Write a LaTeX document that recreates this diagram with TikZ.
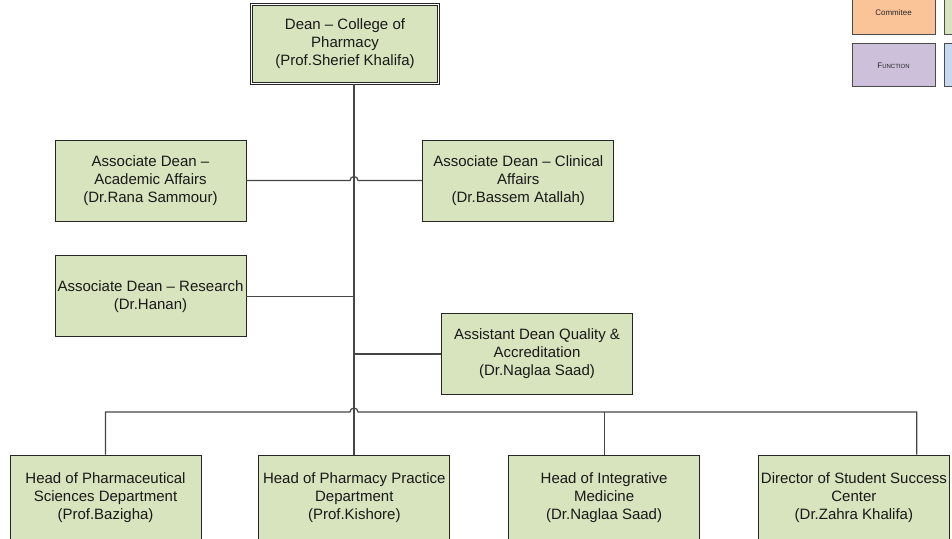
\documentclass[tikz,border=0pt]{standalone}
\usepackage{fontspec}
\setmainfont{Liberation Sans}
\usepackage{tikz}
\usetikzlibrary{positioning}
\definecolor{boxgreen}{RGB}{215,228,189}
\definecolor{legorange}{RGB}{250,196,152}
\definecolor{legpurple}{RGB}{204,192,218}
\definecolor{legblue}{RGB}{198,217,241}
\definecolor{linegray}{RGB}{70,70,70}

\begin{document}
\begin{tikzpicture}
    [x=1pt, y=-1pt,
     orgbox/.style={rectangle, draw=black!85, fill=boxgreen, line width=0.8pt, minimum height=81pt, minimum width=191pt, align=center, inner sep=1pt, text=black!90, font=\fontsize{15}{18}\selectfont},
     deanbox/.style={orgbox, minimum width=187pt, minimum height=79pt, double, double distance=1.6pt},
     headbox/.style={orgbox, minimum height=85pt},
     legbox/.style={rectangle, draw=black!70, line width=0.8pt, minimum height=43pt, minimum width=83pt, text=black!85},
     link/.style={draw=linegray, line width=1.2pt}]

    \path [use as bounding box, clip] (0,0) rectangle (952,538);

    \node [deanbox] (dean) at (345,44) {Dean – College of\\Pharmacy\\(Prof.Sherief Khalifa)};
    \node [orgbox] (acad) at (150.5,180.5) {Associate Dean –\\Academic Affairs\\(Dr.Rana Sammour)};
    \node [orgbox, right=176pt of acad] (clin) {Associate Dean – Clinical\\Affairs\\(Dr.Bassem Atallah)};
    \node [orgbox, below=34pt of acad] (res) {Associate Dean – Research\\(Dr.Hanan)};
    \node [orgbox] (qual) at (537,354) {Assistant Dean Quality \&\\Accreditation\\(Dr.Naglaa Saad)};

    \node [headbox] (pharmsci) at (105.5,497.5) {Head of Pharmaceutical\\Sciences Department\\(Prof.Bazigha)};
    \node [headbox, right=57pt of pharmsci] (practice) {Head of Pharmacy Practice\\Department\\(Prof.Kishore)};
    \node [headbox, right=58pt of practice] (integ) {Head of Integrative\\Medicine\\(Dr.Naglaa Saad)};
    \node [headbox, right=58pt of integ] (success) {Director of Student Success\\Center\\(Dr.Zahra Khalifa)};

    % legend, cut at the page edge
    \node [legbox, fill=legorange] (comm) at (893.5,12.5) {\fontsize{8}{9}\selectfont Commitee};
    \node [legbox, fill=boxgreen, right=9pt of comm] (commb) {};
    \node [legbox, fill=legpurple, below=9pt of comm] (func) {\fontsize{8}{9}\selectfont F\fontsize{6}{9}\selectfont UNCTION};
    \node [legbox, fill=legblue, right=9pt of func] (funcb) {};

    \coordinate (top) at ([xshift=9pt]dean.south);
    \coordinate (bus) at (top |- 0,412);
    \coordinate (drop) at ([xshift=-33pt]success.north east);

    \draw [link] (top) -- (top |- practice.north);
    \draw [link] (acad.east) -- ([xshift=-4pt]acad.east -| top) arc [start angle=180, end angle=0, radius=4pt] -- (clin.west);
    \draw [link] (res.east) -- (res.east -| top);
    \draw [link] (qual.west) -- (qual.west -| top);
    \draw [link] (pharmsci.north) |- ([xshift=-4pt]bus) arc [start angle=180, end angle=0, radius=4pt] -- (bus -| drop) -- (drop);
    \draw [link] (integ.north) -- (integ.north |- bus);
\end{tikzpicture}
\end{document}
